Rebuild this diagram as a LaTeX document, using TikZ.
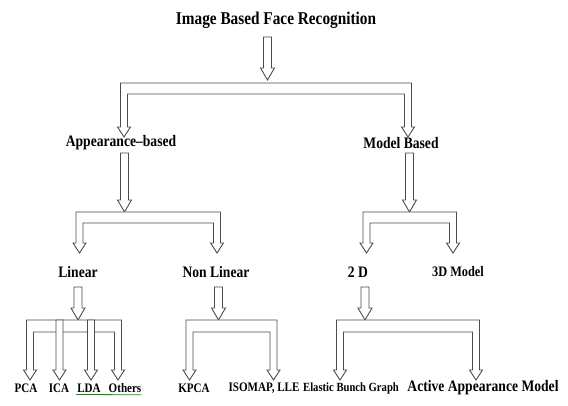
\documentclass[tikz,border=0pt]{standalone}
\usepackage{fontspec}
\setmainfont{Liberation Serif}[FakeStretch=0.85]
\usetikzlibrary{calc}
\tikzset{
  lbl/.style={inner sep=0pt, text=black, font=\bfseries},
  big/.style={font=\fontsize{18}{20}\selectfont\bfseries},
  mid/.style={font=\fontsize{16}{18}\selectfont\bfseries},
  small/.style={font=\fontsize{13}{15}\selectfont\bfseries},
  hollow/.style={draw=black!70, line width=0.9pt, fill=white, line join=miter},
}
% leg half width, head half width, head length
\def\lw{3.5pt}
\def\hw{6.5pt}
\def\hl{10pt}
\def\aw{4pt}
\def\ahw{7pt}
\def\ahl{12pt}
% #1 left leg point, #2 right leg point, #3 bar top, #4 bar bottom, #5 tip
\newcommand\combbr[5]{%
  \path[hollow] let \p1=(#1), \p2=(#2) in
    (\x1-\lw,#3) -- (\x2+\lw,#3) -- (\x2+\lw,#5+\hl) -- (\x2+\hw,#5+\hl) -- (\x2,#5)
    -- (\x2-\hw,#5+\hl) -- (\x2-\lw,#5+\hl) -- (\x2-\lw,#4) -- (\x1+\lw,#4)
    -- (\x1+\lw,#5+\hl) -- (\x1+\hw,#5+\hl) -- (\x1,#5) -- (\x1-\hw,#5+\hl)
    -- (\x1-\lw,#5+\hl) -- cycle;}
% #1 point, #2 top, #3 tip (leg-style arrow)
\newcommand\legarr[3]{%
  \path[hollow] let \p1=(#1) in
    (\x1-\lw,#2) -- (\x1-\lw,#3+\hl) -- (\x1-\hw,#3+\hl) -- (\x1,#3)
    -- (\x1+\hw,#3+\hl) -- (\x1+\lw,#3+\hl) -- (\x1+\lw,#2) -- cycle;}
% #1 point, #2 top, #3 tip (parent arrow)
\newcommand\hollowarr[3]{%
  \path[hollow] let \p1=(#1) in
    (\x1-\aw,#2) -- (\x1-\aw,#3+\ahl) -- (\x1-\ahw,#3+\ahl) -- (\x1,#3)
    -- (\x1+\ahw,#3+\ahl) -- (\x1+\aw,#3+\ahl) -- (\x1+\aw,#2) -- cycle;}
\begin{document}
\begin{tikzpicture}[x=1pt,y=1pt]
\useasboundingbox (0,0) rectangle (568,406);
% nodes
\node[lbl,big] (title) at (276,386) {Image Based Face Recognition};
\node[lbl,mid] (app) at (121,263) {Appearance--based};
\node[lbl,mid] (model) at (401,263) {Model Based};
\node[lbl,mid] (lin) at (78,134) {Linear};
\node[lbl,mid] (nonlin) at (216,134) {Non Linear};
\node[lbl,mid] (twod) at (358,134) {2 D};
\node[lbl,font=\fontsize{14.5}{16}\selectfont\bfseries] (threed) at (458,134) {3D Model};
\node[lbl,small] (pca) at (26,18) {PCA};
\node[lbl,small] (ica) at (59,18) {ICA};
\node[lbl,small] (lda) at (89,18) {LDA};
\node[lbl,small] (others) at (125,18) {Others};
\node[lbl,small] (kpca) at (194,18) {KPCA};
\node[lbl,small] (iso) at (264,18) {ISOMAP, LLE};
\node[lbl,font=\fontsize{12.5}{14}\selectfont\bfseries] (ebg) at (351,18) {Elastic Bunch Graph};
\node[lbl,font=\fontsize{16}{18}\selectfont\bfseries] (aam) at (483,18) {Active Appearance Model};
\draw[green!60!black, line width=0.8pt] ($(lda.south west)+(-1,-2)$) -- ($(others.south east)+(0,-2)$);
% level 1
\hollowarr{$(title)+(-8.5,0)$}{369pt}{326pt}
\combbr{$(app)+(3,0)$}{$(model)+(7,0)$}{323pt}{312pt}{269pt}
% level 2
\hollowarr{$(app)+(3.5,0)$}{253pt}{194pt}
\hollowarr{$(model)+(8.5,0)$}{253pt}{194pt}
\combbr{$(lin)+(1.5,0)$}{$(nonlin)+(1,0)$}{194pt}{183pt}{153pt}
\combbr{$(twod)+(8.5,0)$}{$(threed)+(-5,0)$}{194pt}{183pt}{153pt}
% level 3
\hollowarr{$(lin)+(0,0)$}{119pt}{86pt}
\hollowarr{$(nonlin)+(2.5,0)$}{119pt}{86pt}
\hollowarr{$(twod)+(7,0)$}{119pt}{86pt}
\combbr{$(pca)+(4,0)$}{$(others)+(-7,0)$}{86pt}{74pt}{26pt}
\legarr{$(ica)+(0.5,0)$}{86pt}{26pt}
\legarr{$(lda)+(2,0)$}{86pt}{26pt}
\combbr{$(kpca)+(-4.5,0)$}{$(iso)+(9.5,0)$}{86pt}{74pt}{26pt}
\combbr{$(ebg)+(-11,0)$}{$(aam)+(-7,0)$}{86pt}{74pt}{26pt}
\end{tikzpicture}
\end{document}
